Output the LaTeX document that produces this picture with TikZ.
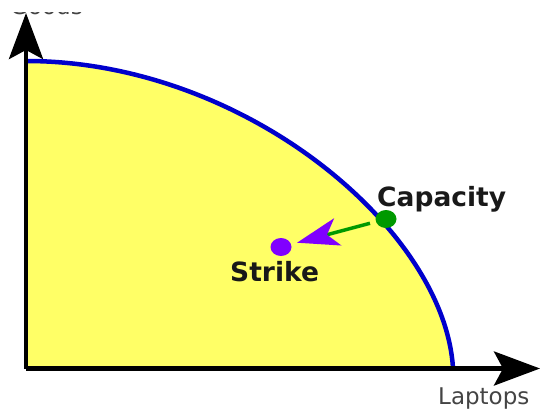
\documentclass[tikz,border=0pt]{standalone}
\usepackage{fontspec}
\setmainfont{DejaVu Sans}
\usetikzlibrary{arrows.meta,shapes.geometric}
\definecolor{ppfyellow}{HTML}{FFFF66}
\definecolor{ppfblue}{HTML}{0000CC}
\definecolor{ppfgreen}{HTML}{009900}
\definecolor{ppfviolet}{HTML}{8000FF}
\definecolor{ppfgray}{HTML}{444444}
\tikzset{
  axisline/.style={line width=4.5pt, -{Stealth[length=46pt,width=34pt,inset=9pt]}},
  ppfcurve/.style={draw=ppfblue, line width=4.5pt},
  dotnode/.style={ellipse, inner sep=0pt, minimum width=21pt, minimum height=18pt},
  boldlabel/.style={font=\fontsize{26.5}{26.5}\selectfont\bfseries, text=black!90, inner sep=0pt, anchor=base west},
  axislabel/.style={font=\fontsize{23}{23}\selectfont, text=ppfgray, inner sep=0pt, anchor=base west},
  movearrow/.style={draw=ppfgreen, line width=3.5pt, shorten <=6pt, shorten >=6pt,
    -{Stealth[length=42pt,width=28pt,inset=11pt,color=ppfviolet]}}
}
\begin{document}
\begin{tikzpicture}[x=1pt,y=-1pt]
\useasboundingbox (0,0) rectangle (540,409);
\coordinate (O) at (26,368.5);
\coordinate (ytop) at (26,13);
\coordinate (xend) at (540,368.5);
\coordinate (A) at (26,61);
\coordinate (B) at (453,368.5);
% yellow region
\fill[ppfyellow] (A) .. controls (245,61) and (445,230) .. (B) -- (O) -- cycle;
% frontier
\draw[ppfcurve] (A) .. controls (245,61) and (445,230) .. (B);
% top label, only its lowest part is visible
\node[axislabel] (ylbl) at (10,15) {Goods};
\fill[white] (0,0) rectangle (130,12);
% axes
\draw[axisline] (O) -- (ytop);
\draw[axisline] (O) -- (xend);
\node[axislabel] (xlbl) at (438,404) {Laptops};
% points
\node[dotnode, fill=ppfgreen] (cap) at (386,219) {};
\node[dotnode, fill=ppfviolet] (strike) at (281,247) {};
\node[boldlabel] (caplbl) at (377,206) {Capacity};
\node[boldlabel] (strikelbl) at (230,281.5) {Strike};
\draw[movearrow] (cap) -- (strike);
\end{tikzpicture}
\end{document}
